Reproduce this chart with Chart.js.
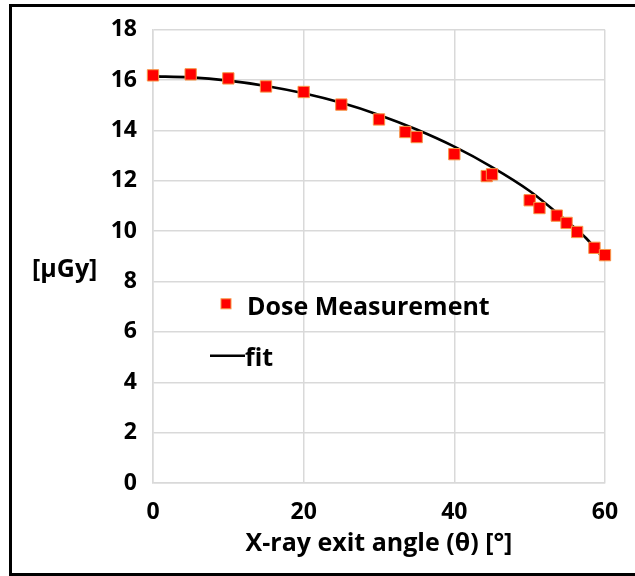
<!DOCTYPE html>
<html>
<head>
<meta charset="utf-8">
<script src="https://cdn.jsdelivr.net/npm/chart.js@4.4.0/dist/chart.umd.min.js"></script>
<style>
    html, body { margin: 0; padding: 0; background: #fff; overflow: hidden; }
    #wrap { position: relative; width: 635px; height: 576px; }
    #frame { position: absolute; left: 9px; top: 4px; width: 640px; height: 566px; border: 3px solid #000; pointer-events: none; }
    canvas { position: absolute; left: 0; top: 0; }
</style>
</head>
<body>
<div id="wrap">
    <canvas id="doseChart" width="635" height="576"></canvas>
    <div id="frame"></div>
</div>
<script>
// Số liệu đo liều
const measAngles = [0, 5, 10, 15, 20, 25, 30, 33.5, 35, 40, 44.3, 45, 50, 51.3, 53.6, 54.9, 56.3, 58.6, 60];
const measDose = [16.19, 16.23, 16.07, 15.75, 15.53, 15.03, 14.44, 13.94, 13.74, 13.06, 12.19, 12.26, 11.23, 10.92, 10.62, 10.33, 9.97, 9.34, 9.05];

// Đường fit
const fitAngles = [0, 5, 10, 15, 20, 25, 30, 35, 40, 45, 50, 55, 57.5, 60];
const fitDose = [16.15, 16.11, 15.98, 15.77, 15.48, 15.1, 14.62, 14.04, 13.36, 12.55, 11.6, 10.38, 9.72, 8.85];

const xTicks = [0, 20, 40, 60];
const yTicks = [0, 2, 4, 6, 8, 10, 12, 14, 16, 18];

const seriesNames = ['Dose Measurement', 'fit'];
const xTitle = 'X-ray exit angle (θ) [°]';
const yTitle = '[µGy]';

Chart.defaults.font.family = "'Open Sans', sans-serif";
Chart.defaults.font.weight = 'bold';
Chart.defaults.color = '#000';

// Vẽ chú thích và tiêu đề trục y bên trong biểu đồ
const customLabels = {
    id: 'customLabels',
    afterDraw(chart) {
        const ctx = chart.ctx;
        const area = chart.chartArea;
        const ds0 = chart.data.datasets[0];
        const ds1 = chart.data.datasets[1];
        ctx.save();
        ctx.fillStyle = '#000';
        ctx.textBaseline = 'alphabetic';
        ctx.textAlign = 'left';

        ctx.font = "bold 25px 'Open Sans', sans-serif";
        ctx.fillText(yTitle, area.left - 121, area.top + 247);

        // mục 1: điểm đo
        const mx = area.left + 73, my = area.top + 274;
        ctx.fillStyle = ds0.backgroundColor;
        ctx.fillRect(mx - 5, my - 5, 10, 10);
        ctx.strokeStyle = ds0.borderColor;
        ctx.lineWidth = 1;
        ctx.strokeRect(mx - 5, my - 5, 10, 10);
        ctx.fillStyle = '#000';
        ctx.font = "bold 25px 'Open Sans', sans-serif";
        ctx.fillText(seriesNames[0], area.left + 94, area.top + 285);

        // mục 2: đường fit
        ctx.strokeStyle = ds1.borderColor;
        ctx.lineWidth = ds1.borderWidth;
        ctx.beginPath();
        ctx.moveTo(area.left + 57, area.top + 326);
        ctx.lineTo(area.left + 92, area.top + 326);
        ctx.stroke();
        ctx.fillText(seriesNames[1], area.left + 92, area.top + 336);
        ctx.restore();
    }
};

new Chart(document.getElementById('doseChart').getContext('2d'), {
    type: 'scatter',
    data: {
        datasets: [{
            label: seriesNames[0],
            data: measAngles.map((a, i) => ({ x: a, y: measDose[i] })),
            backgroundColor: '#ff0000',
            borderColor: '#f79646',
            borderWidth: 1,
            pointStyle: 'rect',
            pointRadius: 8,
            showLine: false,
            clip: false
        }, {
            label: seriesNames[1],
            data: fitAngles.map((a, i) => ({ x: a, y: fitDose[i] })),
            borderColor: '#000',
            backgroundColor: '#000',
            borderWidth: 2.6,
            pointRadius: 0,
            showLine: true,
            cubicInterpolationMode: 'monotone',
            clip: false
        }]
    },
    options: {
        responsive: false,
        animation: false,
        layout: { padding: { left: 0, top: 29, right: 30, bottom: 0 } },
        plugins: {
            legend: { display: false },
            tooltip: { enabled: false }
        },
        scales: {
            x: {
                type: 'linear',
                min: 0,
                max: 60,
                afterBuildTicks: s => { s.ticks = xTicks.map(v => ({ value: v })); },
                afterFit: s => { s.height = 93; },
                grid: { color: '#d9d9d9', lineWidth: 1.5, drawTicks: false },
                border: { color: '#d9d9d9', width: 1.5 },
                ticks: { font: { size: 23 }, padding: 16 },
                title: { display: true, text: xTitle, font: { size: 25 }, padding: { top: 4, bottom: 17 } }
            },
            y: {
                min: 0,
                max: 18,
                afterBuildTicks: s => { s.ticks = yTicks.map(v => ({ value: v })); },
                afterFit: s => { s.width = 153; },
                grid: { color: '#d9d9d9', lineWidth: 1.5, drawTicks: false },
                border: { color: '#d9d9d9', width: 1.5 },
                ticks: { font: { size: 23 }, padding: 16 }
            }
        }
    },
    plugins: [customLabels]
});
</script>
</body>
</html>
